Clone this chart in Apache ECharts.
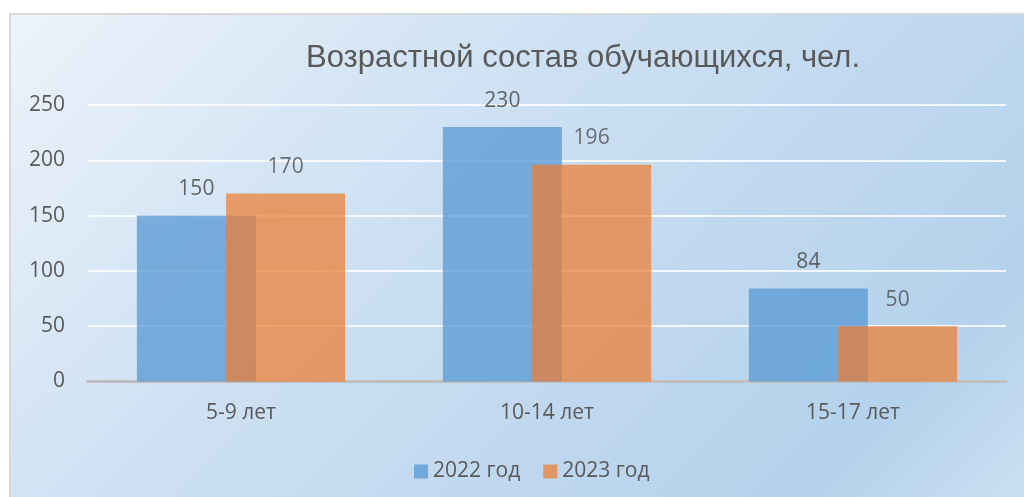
<!DOCTYPE html>
<html>
<head>
<meta charset="utf-8">
<script src="https://cdn.jsdelivr.net/npm/echarts@6/dist/echarts.min.js"></script>
<style>
  html, body {margin: 0; padding: 0; background: #ffffff;}
  #chart {width: 1024px; height: 497px;}
</style>
</head>
<body>
<div id="chart"></div>
<script>
// возрастные группы
const categories = ['5-9 лет', '10-14 лет', '15-17 лет'];
const seriesNames = ['2022 год', '2023 год'];
const values2022 = [150, 230, 84];
const values2023 = [170, 196, 50];

const chartTitle = 'Возрастной состав обучающихся, чел.';
const font = '"Open Sans", "Noto Sans", sans-serif';

let my_chart = echarts.init(document.getElementById('chart'));

const labelStyle = {
    show: true, position: 'top', distance: 16,
    fontFamily: font, fontSize: 21, color: '#404040'
};

my_chart.setOption({
    animation: false,
    backgroundColor: '#ffffff',
    graphic: [{
        type: 'rect', z: -10, silent: true,
        shape: {x: 10, y: 14, width: 1100, height: 600},
        style: {
            stroke: '#d9d9d9', lineWidth: 2,
            fill: {
                type: 'linear', x: 10, y: 14, x2: 770, y2: 774, global: true,
                colorStops: [
                    {offset: 0, color: '#edf3fb'},
                    {offset: 0.3, color: '#d3e4f4'},
                    {offset: 0.62, color: '#c0d8ef'},
                    {offset: 0.84, color: '#b4d2ec'},
                    {offset: 1, color: '#cde0f3'}
                ]
            }
        }
    }],
    title: {
        text: chartTitle, left: 578, top: 38, textAlign: 'center',
        textStyle: {fontFamily: '"Liberation Sans", Arial, sans-serif', fontSize: 31, fontWeight: 'normal', color: '#595959'}
    },
    legend: {
        data: seriesNames, left: 409, top: 456,
        itemWidth: 14, itemHeight: 14, itemGap: 23, icon: 'rect',
        textStyle: {fontFamily: font, fontSize: 21, color: '#595959'}
    },
    grid: {left: 88, right: 18, top: 105, bottom: 115.5, containLabel: false},
    xAxis: {
        type: 'category', data: categories,
        axisTick: {show: false},
        axisLine: {lineStyle: {color: '#bfbfbf', width: 3}},
        axisLabel: {fontFamily: font, fontSize: 21, color: '#595959', margin: 21}
    },
    yAxis: {
        type: 'value', min: 0, max: 250, interval: 50,
        axisLine: {show: false}, axisTick: {show: false},
        axisLabel: {fontFamily: font, fontSize: 21, color: '#595959', margin: 23},
        splitLine: {lineStyle: {color: 'rgba(255,255,255,0.8)', width: 2}}
    },
    series: [
        {
            name: seriesNames[0], type: 'bar', data: values2022,
            barWidth: 119, barGap: '-25%',
            itemStyle: {color: '#5b9bd5', opacity: 0.78},
            label: labelStyle
        },
        {
            name: seriesNames[1], type: 'bar', data: values2023,
            barWidth: 119,
            itemStyle: {color: '#ed7d31', opacity: 0.72},
            label: labelStyle
        }
    ]
});
</script>
</body>
</html>
